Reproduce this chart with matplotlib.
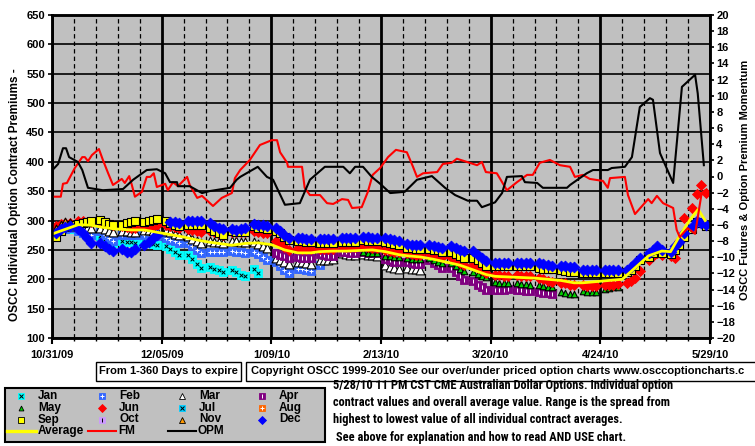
import matplotlib
matplotlib.use("Agg")
import numpy as np
import matplotlib.pyplot as plt
from matplotlib import font_manager
from matplotlib.lines import Line2D
from matplotlib.patches import Rectangle

# --- fonts ---
_names = {f.name for f in font_manager.fontManager.ttflist}
NARROW = None
for cand in ['Liberation Sans Narrow', 'Roboto Condensed', 'Open Sans Condensed', 'DejaVu Sans Condensed']:
    if cand in _names:
        NARROW = cand
        break
plt.rcParams['font.family'] = ['Liberation Sans', 'DejaVu Sans']
plt.rcParams['font.weight'] = 'bold'

# --- data ---
# x axis is a trading-day category axis: 5 slots per week, 150 slots in all
date_labels = ['10/31/09', '12/05/09', '1/09/10', '2/13/10', '3/20/10', '4/24/10', '5/29/10']

# individual contract months: {week index: values for slots 5w+1 .. 5w+4}
jan = {0: [280, 283, 285, 286], 1: [284, 281, 278, 276], 2: [273, 269, 265, 261],
       3: [266, 264, 263, 262], 4: [263, 261, 260, 258], 5: [256, 251, 246, 242],
       6: [241, 234, 226, 219], 7: [221, 218, 216, 213], 8: [216, 212, 208, 205],
       9: [218, 210]}
feb = {0: [282, 284, 286, 288], 1: [283, 279, 277, 275], 2: [282, 276, 271, 266],
       3: [276, 275, 275, 275], 4: [275, 275, 274, 274], 5: [270, 267, 265, 262],
       6: [261, 256, 250, 245], 7: [247, 247, 246, 246], 8: [248, 247, 246, 245],
       9: [247, 243, 238, 232], 10: [229, 222, 216, 210], 11: [218, 217, 215, 214],
       12: [224]}
mar = {0: [285, 288, 290, 291], 1: [292, 290, 288, 287], 2: [288, 285, 282, 280],
       3: [283, 282, 281, 281], 4: [284, 284, 283, 283], 5: [283, 280, 277, 275],
       6: [273, 269, 265, 262], 7: [265, 264, 263, 262], 8: [266, 265, 264, 264],
       9: [263, 260, 256, 253], 10: [236, 232, 229, 226], 11: [230, 229, 228, 226],
       12: [232, 233, 233, 234], 13: [244, 243, 242, 242], 14: [243, 242, 241, 240],
       15: [224, 221, 219, 218], 16: [220, 218, 217, 216]}
apr = {10: [245, 242, 239, 237], 11: [238, 237, 236, 236], 12: [243, 241, 240, 240],
       13: [247, 246, 245, 245], 14: [247, 245, 244, 244], 15: [234, 232, 230, 229],
       16: [229, 227, 226, 226], 17: [232, 228, 224, 220], 18: [219, 212, 205, 199],
       19: [197, 191, 186, 181], 20: [182, 181, 182, 183], 21: [182, 181, 180, 180],
       22: [179, 177, 176, 175]}
may = {14: [246, 245, 245, 244], 15: [240, 239, 238, 238], 16: [236, 235, 235, 234],
       17: [236, 233, 230, 228], 18: [227, 222, 218, 214], 19: [212, 209, 206, 204],
       20: [195, 194, 194, 194], 21: [193, 192, 192, 191], 22: [190, 188, 187, 186],
       23: [178, 177, 175, 175], 24: [180, 179, 179, 178], 25: [184, 185, 186, 187]}
jun = {0: [290, 294, 296, 295], 1: [300, 299, 298, 297], 2: [297, 295, 294, 293],
       3: [290, 289, 288, 288], 4: [290, 291, 291, 292], 5: [293, 290, 289, 288],
       6: [285, 284, 282, 281], 7: [283, 280, 277, 275], 8: [281, 280, 280, 280],
       9: [282, 280, 279, 278], 10: [266, 261, 255, 250], 11: [253, 252, 251, 251],
       12: [252, 252, 252, 251], 13: [256, 255, 255, 255], 14: [256, 255, 254, 254],
       15: [250, 248, 247, 246], 16: [244, 243, 242, 242], 17: [245, 242, 240, 238],
       18: [238, 233, 228, 224], 19: [225, 220, 215, 211], 20: [207, 207, 206, 206],
       21: [207, 206, 206, 206], 22: [203, 200, 197, 195], 23: [194, 193, 191, 190],
       24: [190, 189, 189, 189], 25: [190, 191, 191, 192], 26: [194, 197, 203, 214],
       27: [232, 240, 244, 241], 28: [239, 236, 265, 304], 29: [322, 346, 360, 347]}
jul = {}
aug = {}
sep = {0: [272, 282, 290, 293], 1: [294, 296, 298, 299], 2: [301, 297, 294, 293],
       3: [293, 295, 298, 300], 4: [298, 300, 301, 302], 5: [300, 296, 292, 290],
       6: [293, 293, 292, 292], 7: [287, 283, 279, 276], 8: [282, 281, 281, 281],
       9: [290, 288, 287, 286], 10: [283, 278, 272, 267], 11: [265, 265, 264, 264],
       12: [262, 262, 262, 262], 13: [264, 264, 264, 264], 14: [267, 266, 266, 266],
       15: [263, 262, 260, 259], 16: [254, 253, 252, 252], 17: [252, 250, 249, 247],
       18: [246, 243, 239, 236], 19: [237, 232, 227, 222], 20: [223, 222, 222, 222],
       21: [222, 222, 222, 222], 22: [219, 218, 217, 217], 23: [215, 214, 213, 213],
       24: [210, 210, 210, 210], 25: [210, 210, 210, 211], 26: [212, 216, 222, 232],
       27: [238, 244, 250, 245], 28: [243, 250, 258, 272], 29: [286, 297, 295, 290]}
oct_ = {}
nov = {0: [285, 292, 297, 295]}
dec = {0: [279, 285, 289, 291], 1: [285, 278, 270, 262], 2: [261, 257, 252, 248],
       3: [251, 247, 247, 252], 4: [258, 264, 270, 276], 5: [None, 297, 297, 296],
       6: [299, 299, 299, 299], 7: [295, 291, 288, 285], 8: [286, 284, 285, 287],
       9: [294, 293, 292, 291], 10: [288, 282, 276, 271], 11: [271, 270, 269, 269],
       12: [268, 268, 268, 268], 13: [270, 270, 270, 270], 14: [272, 272, 271, 271],
       15: [270, 268, 267, 266], 16: [260, 259, 258, 258], 17: [258, 256, 255, 254],
       18: [257, 253, 250, 248], 19: [248, 242, 236, 231], 20: [228, 227, 227, 227],
       21: [228, 228, 228, 228], 22: [228, 226, 224, 223], 23: [222, 222, 221, 221],
       24: [216, 216, 216, 216], 25: [216, 216, 216, 216], 26: [216, 221, 227, 237],
       27: [244, 250, 256, 250], 28: [247, 256, 264, 279], 29: [289, 300, 296, 293]}

# overall average (left axis)
avg_x = [0, 3, 6, 9, 11, 14, 18, 21, 24, 27, 30, 33, 36, 39, 41, 44, 47, 50, 53, 56,
         59, 61, 64, 67, 70, 73, 76, 79, 81, 84, 87, 90, 93, 96, 99, 101, 104, 107, 110, 113,
         116, 119, 121, 124, 127, 130, 133, 136, 139, 141, 143, 145.5, 147.3, 148.9]
avg_y = [277, 285, 293, 292, 289, 286, 284, 284, 280, 276, 272, 267, 263, 260, 258, 261, 262, 259, 250, 245,
         245, 247, 248, 248, 249, 250, 247, 242, 240, 238, 234, 229, 224, 216, 208, 205, 204, 203, 202, 200,
         198, 194, 194, 196, 198, 200, 220, 240, 248, 247, 273, 302, 319, 300]

# futures momentum (right axis)
fm_x = [0, 2, 2.5, 3.4, 5.2, 6.9, 7.5, 8.2, 9.1, 10.7,
        11.6, 12.8, 13.9, 15.9, 16.6, 17.6, 18.2, 18.9, 20.5, 21.6,
        22.4, 23.2, 23.9, 25.8, 26.4, 27.6, 28.7, 30.8, 31.4, 33.1,
        34.2, 36.7, 38.7, 41, 41.7, 42.9, 45.1, 47.4, 50.1, 51.3,
        52, 53.6, 53.8, 57, 57.6, 58.8, 61.1, 62.7, 64.1, 66.1,
        67.5, 68.4, 70.6, 72, 73.1, 74.8, 76.6, 78.4, 80.9, 82.3,
        83.2, 84.6, 87.8, 89.1, 91.1, 92.3, 94.6, 96.9, 98, 98.9,
        101.4, 103.7, 106, 108.3, 109.6, 111.2, 113.5, 115.8, 118.1, 119.2,
        121, 122.6, 125.6, 126.7, 127.2, 130.6, 131.3, 132.9, 135.9, 136.7,
        137.9, 139.3, 141.6, 142.4, 143.1, 144.9, 146.6, 148.1, 148.9]
fm_y = [-2.5, -2.5, -0.9, -0.8, 1.05, 2.4, 2.4, 1.9, 2.65, 3.4,
        2.05, 0.4, -1.05, -0.3, -0.8, 0.05, -1.05, -2.5, -1.9, -0.05,
        -0.05, 0.4, -1.3, -0.9, -1.7, -0.7, -1.2, -0.05, -1.05, -2.65,
        -2.4, -3.65, -2.65, -2.05, -0.2, 0.8, 2.05, 3.9, 4.5, 4.5,
        3.0, 1.7, 1.2, 1.2, -1.4, -2.3, -2.3, -3.3, -3.4, -2.8,
        -2.9, -3.9, -3.8, -1.9, 0.2, 1.05, 2.4, 3.3, 3.0, 1.2,
        -0.05, 0.4, 0.55, 1.55, 1.7, 2.2, 1.8, 1.4, 1.8, 0.55,
        0.4, -1.7, -0.7, 0.2, 0.2, 1.7, 2.05, 1.4, 1.2, -0.05,
        0.2, -0.3, -0.55, -1.4, -0.2, -0.05, -2.3, -4.65, -2.8, -3.3,
        -2.4, -3.3, -3.9, -6.6, -7.5, -6.4, -7.1, -2.05, -1.7]

# option premium momentum (right axis)
opm_x = [0.1, 1.4, 2.5, 3.2, 3.9, 5.9, 6.9, 8.2, 11.6, 16.2,
         18.5, 21.6, 23.9, 25.8, 26.9, 28.5, 28.7, 31.4, 34.2, 36,
         40.6, 42.1, 42.9, 46.9, 49, 50.4, 53.1, 56.5, 58.8, 62.2,
         66.4, 67.9, 69.1, 70.9, 72.9, 74.8, 77.1, 80.4, 83.2, 86.6,
         89.6, 91.9, 94.8, 96.9, 98, 101, 102.6, 103.7, 107.1, 107.8,
         110.6, 111.9, 117.4, 118.1, 121.9, 123.3, 126.7, 127.6, 130.6, 132.2,
         134, 136.3, 137, 138.6, 141.6, 143.6, 146.6, 147.2, 148.6]
opm_y = [0.8, 1.55, 3.5, 3.5, 2.4, 1.8, 0.8, -1.4, -1.7, -1.55,
         -0.4, 0.8, 0.9, 0.4, -0.7, -0.7, -1.2, -1.2, -2.05, -1.8,
         -1.4, -0.4, -0.05, 1.2, -0.05, -0.4, -3.5, -3.3, -0.4, 1.2,
         1.2, 0.4, 1.2, 1.2, -0.05, -0.9, -2.05, -1.9, -0.4, 0.05,
         -1.4, -2.3, -3.0, -3.0, -3.8, -3.2, -2.05, -0.05, 0.05, -0.7,
         -0.8, -1.4, -1.4, -1.05, 0.4, 0.8, 0.8, 1.05, 1.2, 2.4,
         8.6, 9.7, 9.5, 2.9, -0.8, 11.1, 12.6, 10.3, 1.4]

months = ['Jan', 'Feb', 'Mar', 'Apr', 'May', 'Jun', 'Jul', 'Aug', 'Sep', 'Oct', 'Nov', 'Dec']
month_data = [jan, feb, mar, apr, may, jun, jul, aug, sep, oct_, nov, dec]

# marker look per month: (marker, face, edge, size, glyph, glyph colour)
styles = {
    'Jan': ('s', '#00ffff', '#00ffff', 34, 'x', 'black'),
    'Feb': ('s', '#3366ff', '#3366ff', 34, '+', 'white'),
    'Mar': ('^', 'white', 'black', 40, None, None),
    'Apr': ('s', '#800080', '#800080', 34, r'$\mathrm{I}$', 'white'),
    'May': ('^', '#00cc00', 'black', 22, None, None),
    'Jun': ('D', '#ff0000', '#ff0000', 26, None, None),
    'Jul': ('s', '#00ccff', '#00ccff', 34, 'x', 'black'),
    'Aug': ('s', '#ff6600', '#ff6600', 34, '+', 'white'),
    'Sep': ('s', '#ffff00', 'black', 34, None, None),
    'Oct': ('s', '#cc99ff', '#cc99ff', 34, r'$\mathrm{I}$', 'black'),
    'Nov': ('^', '#ff9900', 'black', 40, None, None),
    'Dec': ('D', '#0000ff', '#0000ff', 30, None, None),
}


def expand(weeks):
    xs, ys = [], []
    for w, vals in weeks.items():
        for i, v in enumerate(vals):
            if v is not None:
                xs.append(5 * w + 1 + i)
                ys.append(v)
    return xs, ys


W, H = 755, 446


def fp(x, y):
    """pixel position -> figure fraction"""
    return x / W, 1 - y / H


fig = plt.figure(figsize=(W / 100, H / 100), dpi=100)
fig.patch.set_facecolor('white')

ax = fig.add_axes([52 / W, 1 - 338 / H, 658 / W, 323 / H])
ax.set_facecolor('#c0c0c0')
ax.set_axisbelow(True)
ax.set_xlim(0, 150)
ax.set_ylim(100, 650)
ax.set_yticks(range(100, 651, 50))
ax.set_xticks(range(0, 151, 25))
ax.set_xticklabels(date_labels)
ax.set_xticks(range(0, 151, 5), minor=True)
ax.grid(axis='y', color='black', lw=1.2)
ax.grid(axis='x', which='major', color='black', lw=2.0)
ax.grid(axis='x', which='minor', color='black', lw=0.9, ls=(0, (3.5, 2.5)))
ax.tick_params(axis='y', labelsize=8, length=3, width=1.2, pad=2)
ax.tick_params(axis='x', which='major', labelsize=8, length=4, width=1.5, pad=5)
ax.tick_params(axis='x', which='minor', length=2, width=1)
for s in ax.spines.values():
    s.set_linewidth(1.8)

for name, data in zip(months, month_data):
    xs, ys = expand(data)
    if not xs:
        continue
    mk, fc, ec, sz, glyph, gc = styles[name]
    ew = 0.8 if ec == 'black' else 0.6
    ax.scatter(xs, ys, marker=mk, s=sz, c=fc, edgecolors=ec, linewidths=ew, zorder=3)
    if glyph:
        ax.scatter(xs, ys, marker=glyph, s=7, c=gc, linewidths=0.7, zorder=3)

ax.plot(avg_x, avg_y, color='#ffff00', lw=2.0, zorder=4)

ax2 = ax.twinx()
ax2.set_ylim(-20, 20)
ax2.set_yticks(range(-20, 21, 2))
ax2.tick_params(axis='y', labelsize=8, length=3, width=1.2, pad=1.5)
for s in ax2.spines.values():
    s.set_linewidth(1.8)
ax2.plot(fm_x, fm_y, color='#ff0000', lw=1.5)
ax2.plot(opm_x, opm_y, color='black', lw=1.5)

# axis titles
fig.text(*fp(15, 195), 'OSCC Individual Option Contract Premiums -', rotation=90,
         ha='center', va='center', fontsize=8.5)
fig.text(*fp(745, 180), 'OSCC Futures & Option Premium Momentum', rotation=90,
         ha='center', va='center', fontsize=8)

# boxes under the chart
fig.add_artist(Rectangle(fp(96, 381), 145 / W, 19 / H, transform=fig.transFigure,
                         fc='white', ec='black', lw=1))
fig.text(*fp(168.5, 371.5), 'From 1-360 Days to expire', ha='center', va='center', fontsize=8)
fig.add_artist(Rectangle(fp(246, 381), 520 / W, 19 / H, transform=fig.transFigure,
                         fc='white', ec='black', lw=1, clip_on=False))
fig.text(*fp(251, 371.5), 'Copyright OSCC 1999-2010 See our over/under priced option charts '
         'www.osccoptioncharts.c', ha='left', va='center', fontsize=8)

# legend
fig.add_artist(Rectangle(fp(5, 442), 320 / W, 54 / H, transform=fig.transFigure,
                         fc='#c0c0c0', ec='black', lw=1.5))
rows = [396, 408, 419.5, 431]
cols = [21, 102, 182, 262]
for k, name in enumerate(months):
    r, c = divmod(k, 4)
    mk, fc, ec, sz, glyph, gc = styles[name]
    x, y = fp(cols[c], rows[r])
    fig.add_artist(Line2D([x], [y], transform=fig.transFigure, marker=mk, ms=np.sqrt(sz) * 0.75,
                          mfc=fc, mec=ec, mew=0.6, ls='none'))
    if glyph:
        fig.add_artist(Line2D([x], [y], transform=fig.transFigure, marker=glyph, ms=2.4,
                              color=gc, mew=0.7, ls='none'))
    fig.text(*fp(cols[c] + 17, rows[r]), name, ha='left', va='center', fontsize=8.5)

for (x0, x1), col, lw, lab in [((7, 36), '#ffff00', 2.4, 'Average'),
                               ((88, 116), '#ff0000', 1.5, 'FM'),
                               ((168, 196), 'black', 1.5, 'OPM')]:
    a, yy = fp(x0, rows[3])
    b, _ = fp(x1, rows[3])
    fig.add_artist(Line2D([a, b], [yy, yy], transform=fig.transFigure, color=col, lw=lw))
    fig.text(*fp(x1 + 2, rows[3]), lab, ha='left', va='center', fontsize=8.5)

# description
desc = ['5/28/10 11 PM CST CME Australian Dollar Options. Individual option',
        'contract values and overall average value. Range is the spread from',
        'highest to lowest value of all individual contract averages.',
        ' See above for explanation and how to read AND USE chart.']
if NARROW:
    dfam, dsize = [NARROW, 'DejaVu Sans'], 8.9
else:
    dfam, dsize = ['Liberation Sans', 'DejaVu Sans'], 7.5
for line, y in zip(desc, [385, 402.5, 420, 437]):
    fig.text(*fp(333, y), line, ha='left', va='center', fontsize=dsize, family=dfam)

fig.savefig('out.png', dpi=100)
